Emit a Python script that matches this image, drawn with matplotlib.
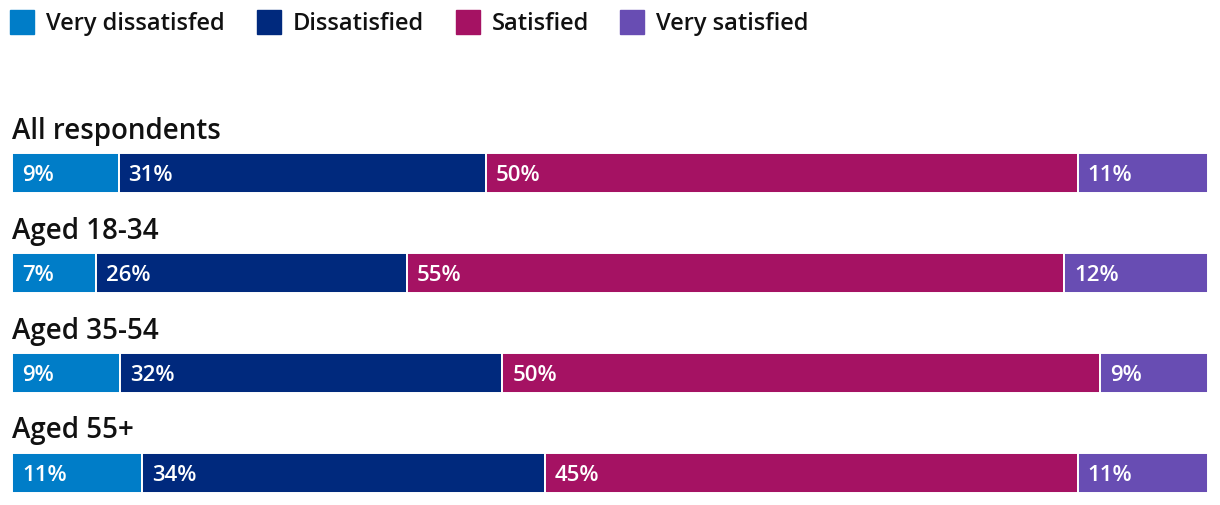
import matplotlib
matplotlib.use("Agg")
import matplotlib.pyplot as plt
from matplotlib.patches import Rectangle

groups = ["All respondents", "Aged 18-34", "Aged 35-54", "Aged 55+"]
series = ["Very dissatisfed", "Dissatisfied", "Satisfied", "Very satisfied"]
very_dissatisfied = [9, 7, 9, 11]
dissatisfied = [31, 26, 32, 34]
satisfied = [50, 55, 50, 45]
very_satisfied = [11, 12, 9, 11]
colors = ["#007DC8", "#00297D", "#A51263", "#684DB3"]

W, H = 1220, 506
fig = plt.figure(figsize=(W / 100, H / 100), dpi=100)
plt.rcParams['font.family'] = ['Open Sans', 'DejaVu Sans']

def fx(px):
    return px / W

def fy(py):
    return 1 - py / H

# Legend
leg_x = [10, 257, 456, 620]
for i, name in enumerate(series):
    fig.patches.append(Rectangle((fx(leg_x[i]), fy(35)), fx(24), 24 / H,
                                 transform=fig.transFigure, color=colors[i]))
    fig.text(fx(leg_x[i] + 36), fy(24), name, fontsize=17, fontweight='semibold',
             va='center', ha='left', color='#111111')

data = list(zip(very_dissatisfied, dissatisfied, satisfied, very_satisfied))
bar_top = [154, 254, 354, 454]
for r, g in enumerate(groups):
    vals = data[r]
    total = sum(vals)
    ax = fig.add_axes([fx(12), fy(bar_top[r] + 40), fx(1196), 40 / H])
    left = 0
    for i, v in enumerate(vals):
        ax.barh(0, v, left=left, height=1, color=colors[i], edgecolor='white', linewidth=1.4)
        ax.text(left + total * 10 / 1196, -0.04, f"{v}%", color='white', fontsize=16,
                fontweight='semibold', va='center', ha='left')
        left += v
    ax.set_xlim(0, total)
    ax.set_ylim(-0.5, 0.5)
    ax.axis('off')
    fig.text(fx(12), fy(bar_top[r] - 23), g, fontsize=20, fontweight='semibold',
             va='center', ha='left', color='#111111')

fig.savefig("out.png", dpi=100)
